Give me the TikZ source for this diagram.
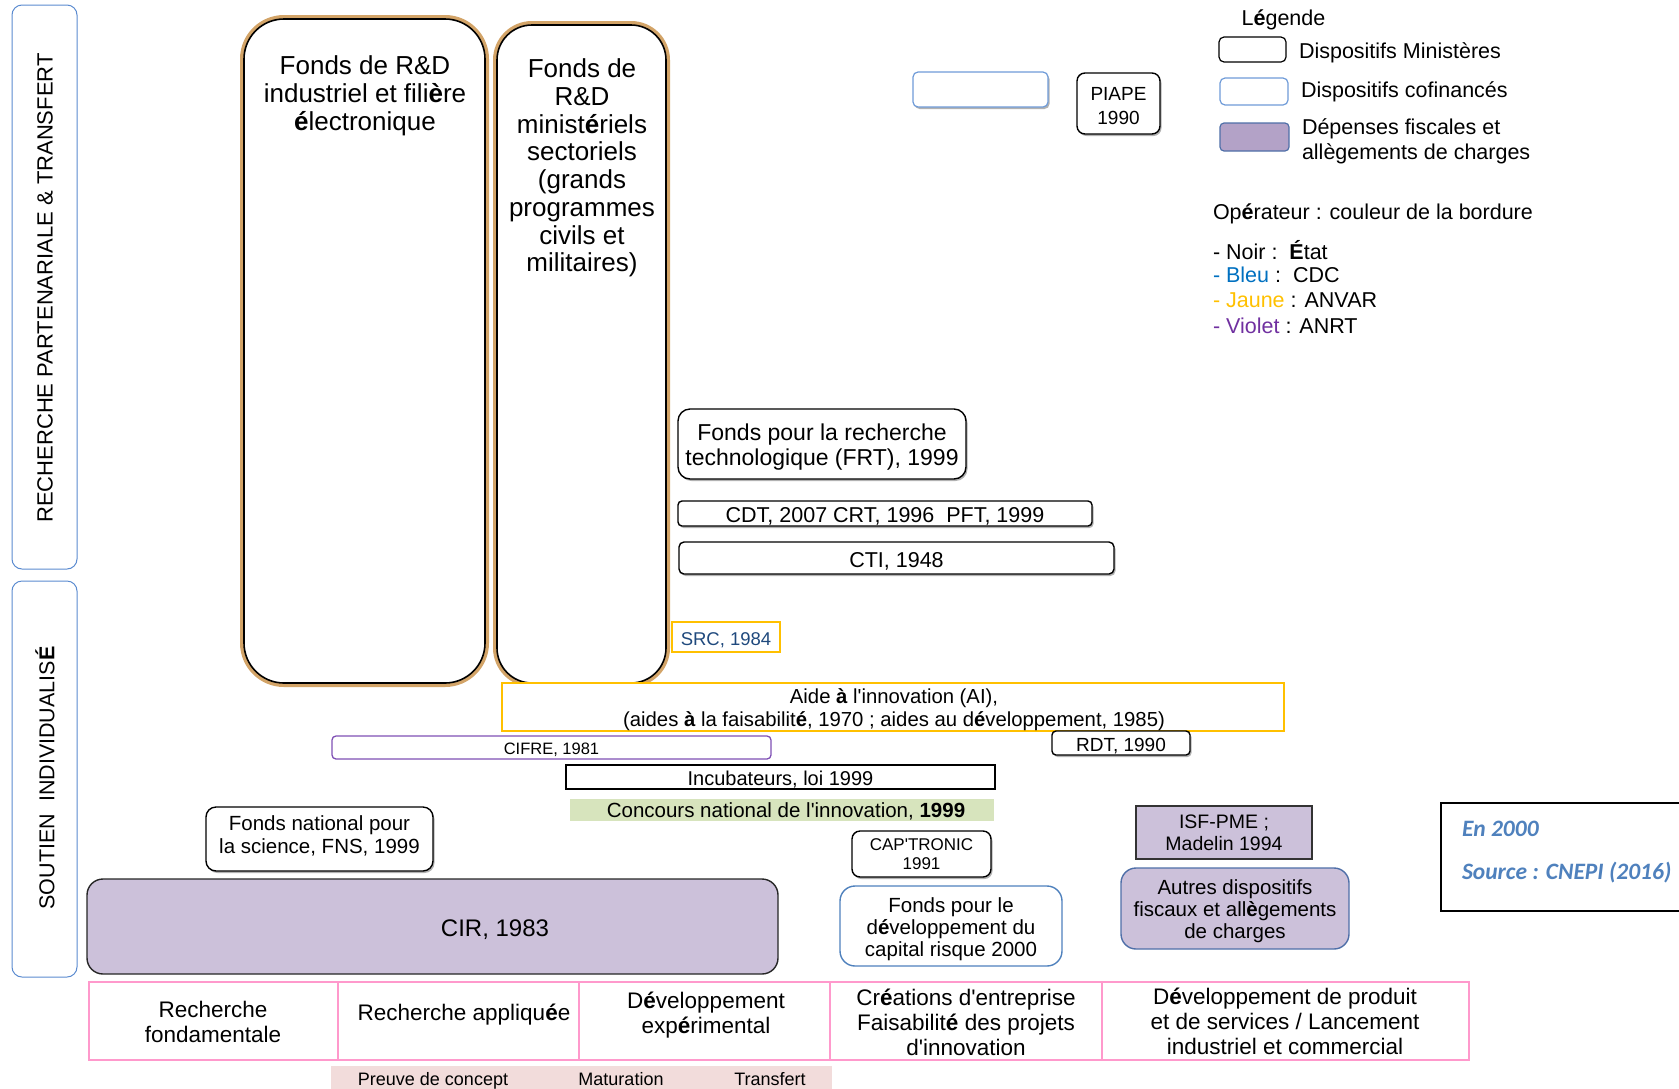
\documentclass[tikz,border=0pt]{standalone}
\usepackage{fontspec}
\setmainfont{Liberation Sans}
\newfontfamily\calibfont{Carlito}
\usetikzlibrary{shadows}
\newcommand\myfs[2]{\fontsize{#1}{#2}\selectfont}
\newcommand\apos{\textquotesingle}
\newcommand\upr{\rule{0pt}{1em}}
\definecolor{sideblue}{HTML}{5B8BD0}
\definecolor{glowc}{HTML}{D3A468}
\definecolor{lblue}{HTML}{6F9BD8}
\definecolor{gold}{HTML}{FFC000}
\definecolor{srctext}{HTML}{1F497D}
\definecolor{cifrec}{HTML}{7F50B5}
\definecolor{greenf}{HTML}{D7E4BD}
\definecolor{purf}{HTML}{CCC1DA}
\definecolor{purleg}{HTML}{B3A2C7}
\definecolor{autresb}{HTML}{4F6FA8}
\definecolor{pinkb}{HTML}{FF99CC}
\definecolor{barf}{HTML}{F2DCDB}
\definecolor{srcblue}{HTML}{4F81BD}
\definecolor{mybleu}{HTML}{0070C0}
\definecolor{myjaune}{HTML}{FFC000}
\definecolor{myviolet}{HTML}{7030A0}
\begin{document}
\begin{tikzpicture}[x=1pt,y=-1pt,
  every node/.style={inner sep=0pt, outer sep=0pt, align=center, text=black},
  dn/.style={execute at begin node={\rule{0pt}{1em}}},
  shad/.style={drop shadow={shadow xshift=1.5pt, shadow yshift=-2pt, opacity=0.3, fill=black}},
  sidebox/.style={draw=sideblue, line width=1pt, rounded corners=10pt, fill=white},
  bigbox/.style={preaction={draw=glowc, line width=8pt}, draw=black, line width=1.6pt, fill=white, rounded corners=40pt},
  mbox/.style={draw=black, line width=1.4pt, fill=white, rounded corners=#1},
  mbox/.default=5pt,
  legtext/.style={anchor=west, align=left, font=\myfs{21.5}{25}},
  cell/.style={draw=pinkb, line width=1.3pt, minimum height=78pt},
  celltext/.style={font=\myfs{22.5}{25}},
  bartext/.style={anchor=base, font=\myfs{18}{20}},
  srcstyle/.style={anchor=west, font=\calibfont\bfseries\itshape\myfs{23.5}{26}, text=srcblue}
]
\useasboundingbox (0,0) rectangle (1679,1088);

% side boxes
\node[sidebox, minimum width=65pt, minimum height=564pt] (rp) at (44.5,287) {};
\node[rotate=90, font=\myfs{22}{24}] (rpt) at (45,288) {RECHERCHE PARTENARIALE \& TRANSFERT};
\node[sidebox, minimum width=65pt, minimum height=396pt] (si) at (44.5,779) {};
\node[rotate=90, font=\myfs{21.5}{24}] (sit) at (45,778) {SOUTIEN\ \ INDIVIDUALIS\textbf{É}};

% big boxes
\node[bigbox, minimum width=241pt, minimum height=664pt] (fa) at (364.5,351) {};
\node[anchor=north, font=\myfs{26}{28}] (fat) at (365,56) {Fonds de R\&D\\industriel et fili\textbf{è}re\\\textbf{é}lectronique};
\node[bigbox, rounded corners=35pt, minimum width=169pt, minimum height=658pt] (fb) at (581.5,354) {};
\node[anchor=north, font=\myfs{26}{27.7}] (fbt) at (582,59) {Fonds de\\R\&D\\minist\textbf{é}riels\\sectoriels\\(grands\\programmes\\civils et\\militaires)};

% top small boxes
\node[draw=lblue, line width=1.2pt, rounded corners=5pt, fill=white, shad, minimum width=135pt, minimum height=35pt] (blank) at (980.5,89.5) {};
\node[mbox=8pt, shad, minimum width=83pt, minimum height=61pt, font=\myfs{19}{24}] (piape) at (1118.5,103.5) {\upr PIAPE\\1990};

% legend
\node[dn, font=\myfs{21.5}{25}] (legt) at (1283.5,17) {L\textbf{é}gende};
\node[mbox=5pt, line width=1.2pt, minimum width=67pt, minimum height=25pt] (lg1) at (1252.5,49.5) {};
\node[legtext, dn] (lg1t) at (1299,50) {Dispositifs Ministères};
\node[draw=lblue, line width=1.2pt, rounded corners=5pt, fill=white, minimum width=68pt, minimum height=27pt] (lg2) at (1254,91.5) {};
\node[legtext, dn] (lg2t) at (1301,89) {Dispositifs cofinancés};
\node[draw=autresb, line width=1.2pt, rounded corners=4pt, fill=purleg, minimum width=69pt, minimum height=28pt] (lg3) at (1254.5,137) {};
\node[legtext] (lg3t) at (1302,138.5) {\upr Dépenses fiscales et\\allègements de charges};
\node[legtext, dn] (opt) at (1213,211) {Op\textbf{é}rateur : couleur de la bordure};
\node[legtext] (op1) at (1213,250) {- Noir :\ \ \textbf{É}tat};
\node[legtext] (op2) at (1213,275) {\textcolor{mybleu}{- Bleu} :\ \ CDC};
\node[legtext] (op3) at (1213,300) {\textcolor{myjaune}{- Jaune} : ANVAR};
\node[legtext] (op4) at (1213,326) {\textcolor{myviolet}{- Violet} : ANRT};

% middle boxes
\node[mbox=12pt, shad, minimum width=288pt, minimum height=70pt, font=\myfs{23}{25}] (frt) at (822,444) {\upr Fonds pour la recherche\\technologique (FRT), 1999};
\node[mbox=4pt, shad, dn, minimum width=414pt, minimum height=25pt, font=\myfs{21.5}{24}] (cdt) at (885,513.5) {CDT, 2007 CRT, 1996\ \ PFT, 1999};
\node[mbox=5pt, shad, dn, minimum width=435pt, minimum height=32pt, font=\myfs{21.5}{24}] (cti) at (896.5,558) {CTI, 1948};
\node[draw=gold, line width=2pt, fill=white, dn, minimum width=108pt, minimum height=30pt, font=\myfs{18.5}{22}, text=srctext] (src) at (726,637) {SRC, 1984};
\node[draw=gold, line width=2pt, fill=white, minimum width=782pt, minimum height=48pt] (ai) at (893,707) {};
\node[font=\myfs{20.3}{23}] (ait) at (894,710) {Aide \textbf{à} l\apos innovation (AI),\\(aides \textbf{à} la faisabilit\textbf{é}, 1970 ; aides au d\textbf{é}veloppement, 1985)};
\node[draw=cifrec, line width=1.3pt, rounded corners=4pt, fill=white, dn, minimum width=439pt, minimum height=23pt, font=\myfs{16.5}{20}] (cifre) at (551.5,747.5) {CIFRE, 1981};
\node[mbox=4pt, shad, dn, minimum width=138pt, minimum height=24pt, font=\myfs{19}{22}] (rdt) at (1121,743) {RDT, 1990};
\node[draw=black, line width=1.3pt, fill=white, dn, minimum width=429pt, minimum height=24pt, font=\myfs{20}{22}] (incub) at (780.5,777) {Incubateurs, loi 1999};
\node[fill=greenf, minimum width=424pt, minimum height=22pt] (conc) at (782,810) {};
\node[font=\myfs{20.5}{22}] (conct) at (786,811.5) {Concours national de l\apos innovation, \textbf{1999}};
\node[mbox=10pt, shad, minimum width=227pt, minimum height=64pt] (fns) at (319.5,839) {};
\node[font=\myfs{20.5}{23}] (fnst) at (319.5,835.5) {Fonds national pour\\la science, FNS, 1999};
\node[mbox=8pt, shad, minimum width=139pt, minimum height=46pt, font=\myfs{17}{19}] (capt) at (921.5,854) {CAP\apos TRONIC\\1991};
\node[draw=black!80, line width=1.4pt, fill=purf, minimum width=176pt, minimum height=53pt, font=\myfs{19.5}{22}] (isf) at (1224,832.5) {ISF-PME ;\\Madelin 1994};
\node[draw=autresb, line width=1.4pt, rounded corners=15pt, fill=purf, minimum width=228pt, minimum height=81pt, font=\myfs{20.5}{22}] (autres) at (1235,908.5) {\upr Autres dispositifs\\fiscaux et all\textbf{è}gements\\de charges};
\node[draw=black!85, line width=1.4pt, rounded corners=16pt, fill=purf, minimum width=691pt, minimum height=95pt] (cir) at (432.5,926.5) {};
\node[dn, font=\myfs{24}{26}] (cirt) at (495,926) {CIR, 1983};
\node[draw=srcblue, line width=1.4pt, rounded corners=15pt, fill=white, minimum width=222pt, minimum height=80pt, font=\myfs{20.5}{22}] (fdcr) at (951,926) {\upr Fonds pour le\\d\textbf{é}veloppement du\\capital risque 2000};

% source box
\node[draw=black, line width=2.4pt, minimum width=242pt, minimum height=108pt] (srcbox) at (1562,857) {};
\node[srcstyle] (en) at (1462,829) {En 2000};
\node[srcstyle] (srce) at (1462,873) {Source : CNEPI (2016)};

% bottom cells
\node[cell, minimum width=249pt] (c1) at (213.5,1021) {};
\node[cell, minimum width=241pt] (c2) at (458.5,1021) {};
\node[cell, minimum width=251pt] (c3) at (704.5,1021) {};
\node[cell, minimum width=272pt] (c4) at (966,1021) {};
\node[cell, minimum width=367pt] (c5) at (1285.5,1021) {};
\node[celltext] (c1t) at (213,1021.5) {Recherche\\fondamentale};
\node[celltext] (c2t) at (464,1015) {Recherche appliqu\textbf{é}e};
\node[celltext] (c3t) at (706,1015.5) {D\textbf{é}veloppement\\exp\textbf{é}rimental};
\node[celltext] (c4t) at (966,1022) {Cr\textbf{é}ations d\apos entreprise\\Faisabilit\textbf{é} des projets\\d\apos innovation};
\node[celltext] (c5t) at (1285,1021.5) {D\textbf{é}veloppement de produit\\et de services / Lancement\\industriel et commercial};

% bottom bar
\node[fill=barf, minimum width=501pt, minimum height=30pt] (bar) at (581.5,1081) {};
\node[bartext] (b1) at (433,1085) {Preuve de concept};
\node[bartext] (b2) at (621,1085) {Maturation};
\node[bartext] (b3) at (770,1085) {Transfert};
\end{tikzpicture}
\end{document}
